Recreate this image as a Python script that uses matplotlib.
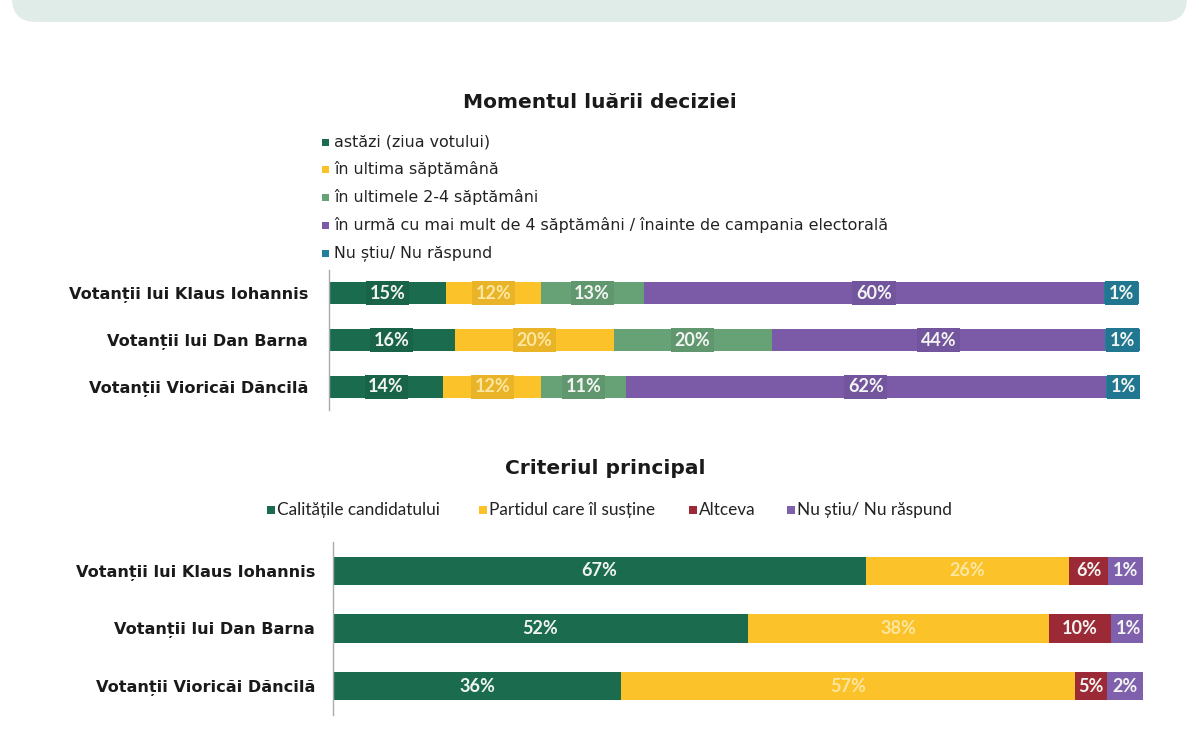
import matplotlib.pyplot as plt
from matplotlib.patches import FancyBboxPatch, Rectangle
from matplotlib.transforms import IdentityTransform
from matplotlib.colors import to_rgb

W, H = 1199, 750

# --- data ---------------------------------------------------------------
voters = ["Votanții lui Klaus Iohannis", "Votanții lui Dan Barna",
          "Votanții Vioricăi Dăncilă"]

decision_labels = ["astăzi (ziua votului)", "în ultima săptămână",
                   "în ultimele 2-4 săptămâni",
                   "în urmă cu mai mult de 4 săptămâni / înainte de campania electorală",
                   "Nu știu/ Nu răspund"]
# printed percentages (rows = voters)
decision_pct = [[15, 12, 13, 60, 1],
                [16, 20, 20, 44, 1],
                [14, 12, 11, 62, 1]]
# segment lengths as drawn in the picture (share of the bar)
decision_len = [[14.4, 11.7, 12.7, 56.8, 4.3],
                [15.5, 19.6, 19.5, 41.1, 4.3],
                [14.1, 12.1, 10.4, 59.2, 4.3]]
decision_colors = ["#1b6c4f", "#fbc22a", "#67a277", "#7b5ba8", "#22809a"]

criteria_labels = ["Calitățile candidatului", "Partidul care îl susține",
                   "Altceva", "Nu știu/ Nu răspund"]
criteria_pct = [[67, 26, 6, 1],
                [52, 38, 10, 1],
                [36, 57, 5, 2]]
criteria_len = [[65.8, 25.1, 4.8, 4.3],
                [51.2, 37.2, 7.6, 4.4],
                [35.6, 56.0, 4.0, 4.4]]
criteria_colors = ["#1b6c4f", "#fbc22a", "#9c2a36", "#7f60ad"]

plt.rcParams['font.family'] = ['DejaVu Sans']
LATO = ['Lato', 'DejaVu Sans']


def px(x, y):
    # pixel position from top-left -> figure fraction
    return x / W, 1 - y / H


def darker(c, f=0.9):
    r, g, b = to_rgb(c)
    return (r * f, g * f, b * f)


def label_color(c):
    return "#fde6a0" if c == "#fbc22a" else "#f2f4f2"


fig = plt.figure(figsize=(W / 100, H / 100), dpi=100)
fig.patch.set_facecolor("white")

# banner at top (cut off)
banner = FancyBboxPatch((12, H - 22), 1175, 80,
                        boxstyle="round,pad=0,rounding_size=24",
                        facecolor="#e0ece7", edgecolor="none",
                        transform=IdentityTransform())
fig.add_artist(banner)

# --- top chart ------------------------------------------------------------
fig.text(*px(600, 103), "Momentul luării deciziei", ha="center", va="center",
         fontsize=14.5, fontweight="bold", color="#1a1a1a")

leg_y = [142, 169, 197, 225, 253]
for lab, col, y in zip(decision_labels, decision_colors, leg_y):
    fig.add_artist(Rectangle(px(322, y + 3.5), 7 / W, 7 / H, facecolor=col,
                             edgecolor="none", transform=fig.transFigure))
    fig.text(*px(334, y), lab, ha="left", va="center", fontsize=11.4,
             color="#222222")

ax1 = fig.add_axes([329 / W, 1 - 410 / H, 811 / W, 140 / H])
for i in range(len(voters)):
    left = 0
    for j, (w, p) in enumerate(zip(decision_len[i], decision_pct[i])):
        col = decision_colors[j]
        ax1.barh(i, w, left=left, height=0.47, color=col, edgecolor="none")
        ax1.text(left + w / 2, i, f"{p}%", ha="center", va="center",
                 fontsize=13, fontweight="bold", color=label_color(col),
                 family=LATO,
                 bbox=dict(boxstyle="square,pad=0.2", facecolor=darker(col, 0.93),
                           edgecolor="none"))
        left += w

# --- bottom chart ---------------------------------------------------------
fig.text(*px(605, 469), "Criteriul principal", ha="center", va="center",
         fontsize=14.5, fontweight="bold", color="#1a1a1a")

leg_x = [267, 479, 689, 787]
for lab, col, x in zip(criteria_labels, criteria_colors, leg_x):
    fig.add_artist(Rectangle(px(x, 514), 8 / W, 8 / H, facecolor=col,
                             edgecolor="none", transform=fig.transFigure))
    fig.text(*px(x + 10, 510), lab, ha="left", va="center", fontsize=12.4,
             color="#222222", family=LATO)

ax2 = fig.add_axes([333 / W, 1 - 715 / H, 810 / W, 173 / H])
for i in range(len(voters)):
    left = 0
    for j, (w, p) in enumerate(zip(criteria_len[i], criteria_pct[i])):
        col = criteria_colors[j]
        ax2.barh(i, w, left=left, height=0.49, color=col, edgecolor="none")
        ax2.text(left + w / 2, i, f"{p}%", ha="center", va="center",
                 fontsize=13, fontweight="bold", color=label_color(col),
                 family=LATO)
        left += w

for ax, pad in [(ax1, 15), (ax2, 13)]:
    ax.set_xlim(0, 100)
    ax.set_ylim(2.5, -0.5)
    ax.set_yticks(range(len(voters)))
    ax.set_yticklabels(voters, fontsize=11.6, fontweight="bold", color="#1a1a1a")
    ax.tick_params(axis="y", length=0, pad=pad)
    ax.set_xticks([])
    for s in ["top", "right", "bottom"]:
        ax.spines[s].set_visible(False)
    ax.spines["left"].set_color("#aaaaaa")
    ax.spines["left"].set_linewidth(1.0)
    ax.patch.set_alpha(0)

fig.savefig("out.png", dpi=100)
